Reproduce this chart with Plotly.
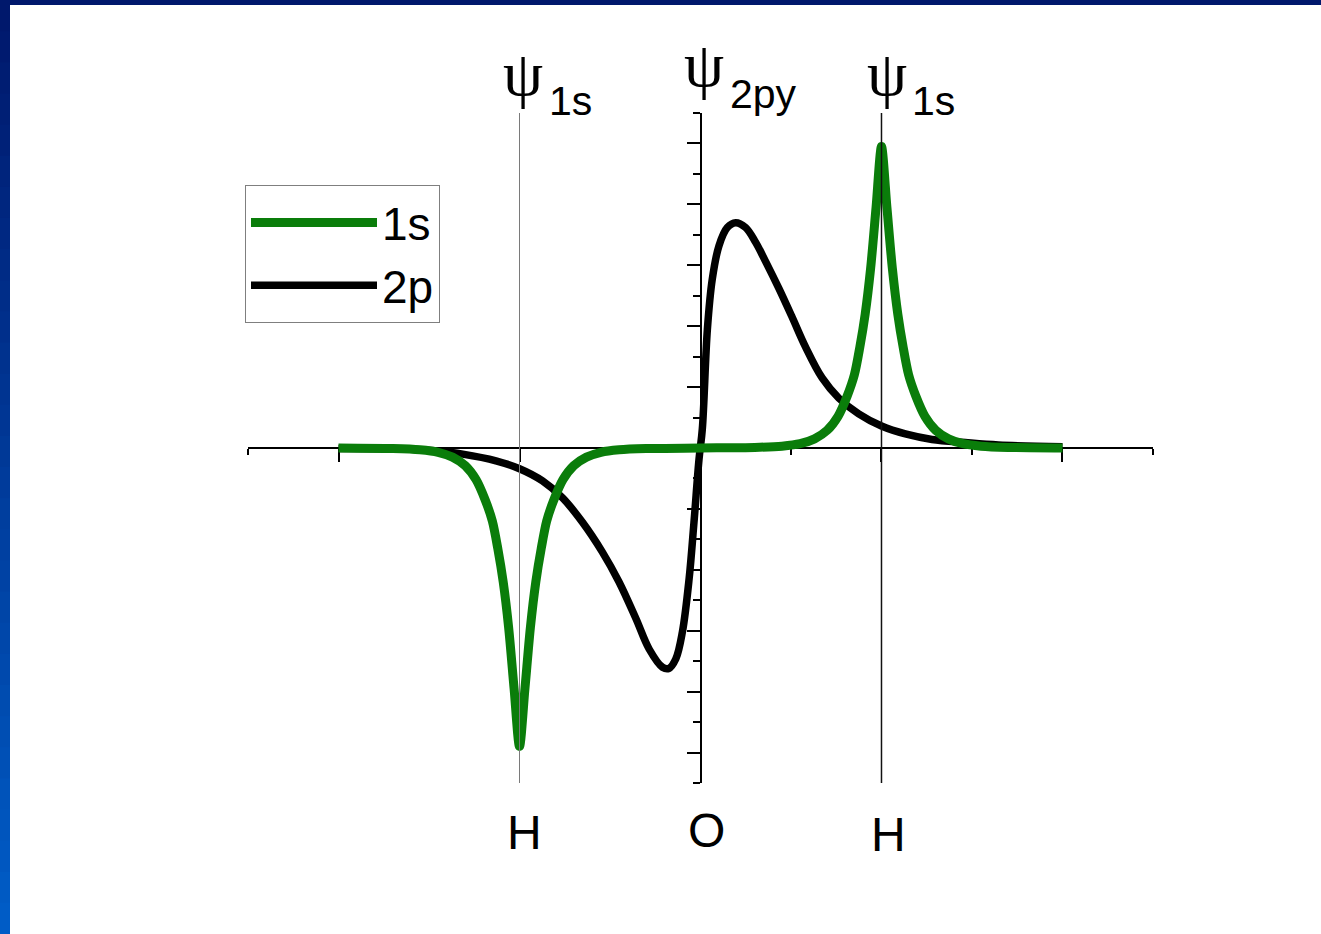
import plotly.graph_objects as go

# ---------------- data ----------------
x_1s = [-2.0, -1.7, -1.55, -1.45, -1.37, -1.30, -1.24, -1.19, -1.15, -1.12, -1.09, -1.06, -1.03, -1.0,
        -0.97, -0.94, -0.91, -0.88, -0.85, -0.81, -0.76, -0.70, -0.63, -0.55, -0.45, -0.30, 0.0,
        0.30, 0.45, 0.55, 0.63, 0.70, 0.76, 0.81, 0.85, 0.88, 0.91, 0.94, 0.97, 1.0,
        1.03, 1.06, 1.09, 1.12, 1.15, 1.19, 1.24, 1.30, 1.37, 1.45, 1.55, 1.7, 2.0]
y_1s = [0.0, -0.01, -0.03, -0.07, -0.15, -0.29, -0.52, -0.85, -1.2, -1.65, -2.2, -2.95, -3.95, -4.9,
        -3.95, -2.95, -2.2, -1.65, -1.2, -0.85, -0.52, -0.29, -0.15, -0.07, -0.03, -0.01, 0.0,
        0.01, 0.03, 0.07, 0.15, 0.29, 0.52, 0.85, 1.2, 1.65, 2.2, 2.95, 3.95, 4.95,
        3.95, 2.95, 2.2, 1.65, 1.2, 0.85, 0.52, 0.29, 0.15, 0.07, 0.03, 0.01, 0.0]

x_2p = [-2.0, -1.6, -1.45, -1.314, -1.13, -1.0, -0.873, -0.762, -0.652, -0.542, -0.45, -0.357,
        -0.284, -0.21, -0.175, -0.136, -0.10, -0.063, -0.036, -0.008, 0.01, 0.038, 0.065, 0.102,
        0.148, 0.194, 0.249, 0.304, 0.36, 0.433, 0.506, 0.58, 0.672, 0.764, 0.874, 1.0, 1.132,
        1.279, 1.463, 1.646, 2.0]
y_2p = [-0.01, -0.02, -0.05, -0.10, -0.21, -0.34, -0.54, -0.82, -1.22, -1.71, -2.2, -2.8,
        -3.3, -3.6, -3.62, -3.46, -3.02, -2.15, -1.22, -0.18, 0.31, 1.95, 2.77, 3.32,
        3.62, 3.70, 3.62, 3.38, 3.06, 2.62, 2.15, 1.66, 1.15, 0.82, 0.56, 0.36, 0.23,
        0.14, 0.09, 0.05, 0.02]

series_names = ["1s", "2p"]
atom_x = [-1.0, 0.0, 1.0]
atom_labels = ["H", "O", "H"]
orbital_labels = ["1s", "2py", "1s"]

# ---------------- layout constants (pixels) ----------------
W, H = 1321, 934
L, R, T, B = 248, 1153, 113, 783


def pxx(px):
    return (px - L) / (R - L)


def pxy(py):
    return (B - py) / (B - T)


GREEN = "#0a7d0a"
SANS = "Arial, 'Liberation Sans', sans-serif"
SERIF = "'Times New Roman', 'Liberation Serif', serif"

fig = go.Figure()
fig.add_trace(go.Scatter(x=x_2p, y=y_2p, mode="lines", name=series_names[1],
                         line=dict(color="black", width=7.5, shape="spline", smoothing=1.0),
                         legendrank=2))
fig.add_trace(go.Scatter(x=x_1s, y=y_1s, mode="lines", name=series_names[0],
                         line=dict(color=GREEN, width=9, shape="spline", smoothing=0.8),
                         legendrank=1))

shapes = []
# vertical guide lines through H atoms
shapes.append(dict(type="line", xref="x", yref="y", x0=atom_x[0], x1=atom_x[0], y0=-5.5, y1=5.5,
                   line=dict(color="#7a7a7a", width=1), layer="above"))
shapes.append(dict(type="line", xref="x", yref="y", x0=atom_x[2], x1=atom_x[2], y0=-5.5, y1=5.5,
                   line=dict(color="#111111", width=1.5), layer="above"))

# slide frame (blue gradient on left, navy strip on top)
n = 30
c0 = (0, 24, 108)
c1 = (0, 92, 198)
for i in range(n):
    t = i / (n - 1)
    col = "rgb(%d,%d,%d)" % tuple(round(a + (b - a) * t) for a, b in zip(c0, c1))
    shapes.append(dict(type="rect", xref="paper", yref="paper",
                       x0=pxx(0), x1=pxx(10), y0=pxy(H * (i + 1) / n + 1), y1=pxy(H * i / n),
                       fillcolor=col, line=dict(width=0), layer="above"))
shapes.append(dict(type="rect", xref="paper", yref="paper",
                   x0=pxx(0), x1=pxx(W), y0=pxy(5), y1=pxy(0),
                   fillcolor="rgb(0,24,108)", line=dict(width=0), layer="above"))

annotations = []
# psi labels
psi_pos = [(523, 73), (704, 64), (887, 73)]
sub_pos = [(570, 101), (763, 94), (933, 101)]
for (px, py), (sx, sy), lab in zip(psi_pos, sub_pos, orbital_labels):
    annotations.append(dict(text="ψ", x=pxx(px), y=pxy(py), xref="paper", yref="paper",
                            showarrow=False, xanchor="center", yanchor="middle",
                            font=dict(family=SERIF, size=64, color="black")))
    annotations.append(dict(text=lab, x=pxx(sx), y=pxy(sy), xref="paper", yref="paper",
                            showarrow=False, xanchor="center", yanchor="middle",
                            font=dict(family=SANS, size=41, color="black")))
# atom labels
atom_px = [(524, 832), (706, 830), (888, 834)]
for (px, py), lab in zip(atom_px, atom_labels):
    annotations.append(dict(text=lab, x=pxx(px), y=pxy(py), xref="paper", yref="paper",
                            showarrow=False, xanchor="center", yanchor="middle",
                            font=dict(family=SANS, size=48, color="black")))

axis_common = dict(showgrid=False, zeroline=False, showticklabels=False, showline=True,
                   linecolor="black", linewidth=2, ticks="outside", tickcolor="black",
                   tickwidth=2, ticklen=13, anchor="free", position=0.5, layer="below traces")

fig.update_layout(
    width=W, height=H,
    margin=dict(l=L, r=W - R, t=T, b=H - B, pad=0),
    paper_bgcolor="white", plot_bgcolor="white",
    showlegend=True,
    legend=dict(x=pxx(245), y=pxy(185), xanchor="left", yanchor="top",
                bgcolor="white", bordercolor="#7f7f7f", borderwidth=1,
                font=dict(family=SANS, size=46, color="black"),
                itemwidth=126, tracegroupgap=0),
    xaxis=dict(range=[-2.5001, 2.5001], dtick=1, tick0=0, side="bottom",
               minor=dict(dtick=0.5, tick0=0, ticks="outside", ticklen=6, tickwidth=2,
                          tickcolor="black", showgrid=False),
               **axis_common),
    yaxis=dict(range=[-5.5001, 5.5001], dtick=1, tick0=0, side="left",
               minor=dict(dtick=0.5, tick0=0, ticks="outside", ticklen=7, tickwidth=2,
                          tickcolor="black", showgrid=False),
               **axis_common),
    shapes=shapes,
    annotations=annotations,
)

fig.write_html("out.html", config={"displayModeBar": False},
               post_script="document.body.style.margin='0px';")
